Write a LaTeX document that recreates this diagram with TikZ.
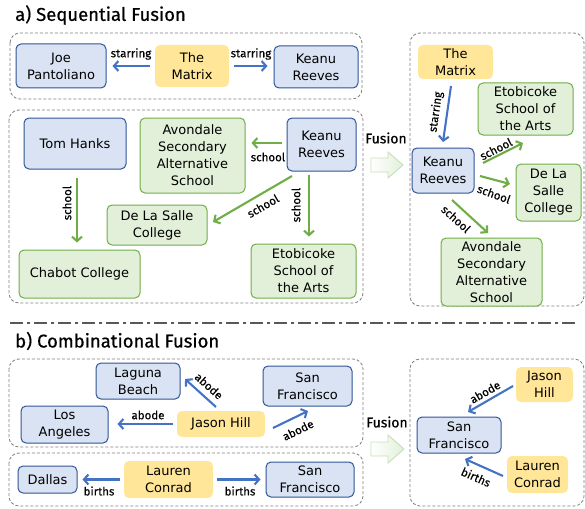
\documentclass[tikz,border=0pt]{standalone}
\usepackage{fontspec}
\setmainfont{DejaVu Sans}
\newfontfamily\lblfont[FakeBold=0.3]{Fira Sans}
\newfontfamily\ttlfont[FakeBold=0.6]{Fira Sans}
\usetikzlibrary{arrows.meta,calc}
\definecolor{bfill}{HTML}{DAE3F3}
\definecolor{bdraw}{HTML}{2F5597}
\definecolor{gfill}{HTML}{E2F0D9}
\definecolor{gdraw}{HTML}{70AD47}
\definecolor{yfill}{HTML}{FFE699}
\definecolor{barrow}{HTML}{4472C4}
\definecolor{garrow}{HTML}{70AD47}
\definecolor{boxgray}{HTML}{7F7F7F}
\definecolor{sepgray}{HTML}{595959}
\definecolor{hollow}{HTML}{C5E0B4}
\tikzset{
  nd/.style={rounded corners=5pt, align=center, inner sep=1pt, font=\fontsize{13}{17}\selectfont},
  bluebox/.style={nd, fill=bfill, draw=bdraw, line width=1pt},
  greenbox/.style={nd, fill=gfill, draw=gdraw, line width=1pt},
  yellowbox/.style={nd, fill=yfill},
  dbox/.style={draw=boxgray, dash pattern=on 3pt off 2pt, line width=0.8pt, rounded corners=10pt},
  barr/.style={draw=barrow, line width=2.1pt, -{Straight Barb[length=4.5pt,width=10pt]}},
  garr/.style={draw=garrow, line width=2.1pt, -{Straight Barb[length=4.5pt,width=10pt]}},
  lbl/.style={font=\lblfont\fontsize{11.5}{13}\selectfont, inner sep=0.5pt},
  ttl/.style={font=\ttlfont\fontsize{18.5}{21}\selectfont, anchor=west, inner sep=0pt},
  fus/.style={font=\lblfont\fontsize{14}{16}\selectfont, inner sep=0pt},
}
\begin{document}
\begin{tikzpicture}[x=1pt,y=-1pt]
\useasboundingbox (0,0) rectangle (585,508);

% ---------- a) Sequential Fusion ----------
\node[ttl] (ta) at (15,15) {a) Sequential Fusion};
\draw[dbox] (10,33) rectangle (362,99);
\draw[dbox] (9,110) rectangle (363,303);
\draw[dbox] (410,33) rectangle (584,306);

\node[bluebox, minimum width=90pt, minimum height=44pt] (joe) at (61,66) {Joe\\Pantoliano};
\node[yellowbox, minimum width=74pt, minimum height=42pt] (matrix1) at (192,66) {The\\Matrix};
\node[bluebox, minimum width=84pt, minimum height=42pt] (keanu1) at (316,67) {Keanu\\Reeves};

\draw[barr, shorten <=5pt, shorten >=6pt] (matrix1.west) -- (joe.east |- matrix1.west);
\node[lbl] (l1) at (131,54) {starring};
\draw[barr, shorten <=5pt, shorten >=6pt] (matrix1.east) -- (keanu1.west |- matrix1.east);
\node[lbl] (l2) at (251,54) {starring};

\node[bluebox, minimum width=102pt, minimum height=51pt] (tom) at (75,143.5) {Tom Hanks};
\node[greenbox, minimum width=105pt, minimum height=75pt] (avon1) at (192.5,155.5) {Avondale\\Secondary\\Alternative\\School};
\node[bluebox, minimum width=69pt, minimum height=53pt] (keanu2) at (321.5,144.5) {Keanu\\Reeves};
\node[greenbox, minimum width=100pt, minimum height=40pt] (dls1) at (157,225) {De La Salle\\College};
\node[greenbox, minimum width=121pt, minimum height=48pt] (chabot) at (79.5,274) {Chabot College};
\node[greenbox, minimum width=105pt, minimum height=54pt] (eto1) at (303.5,271) {Etobicoke\\School of\\the Arts};

\draw[garr, shorten <=8pt, shorten >=7pt] ([xshift=2pt]tom.south) -- ([xshift=2pt]tom.south |- chabot.north);
\node[lbl, rotate=90] (l3) at (67,203) {school};
\draw[garr, shorten <=5pt, shorten >=6pt] ([yshift=1.5pt]keanu2.west) -- ([yshift=1.5pt]keanu2.west -| avon1.east);
\node[lbl] (l4) at (268,157) {school};
\draw[garr] ($(keanu2.center)+(-29.5,31.5)$) -- ($(dls1.center)+(56,-3)$);
\node[lbl, rotate=30] (l5) at (263,206) {school};
\draw[garr, shorten <=3pt, shorten >=7pt] ([xshift=-12.5pt]keanu2.south) -- ([xshift=-12.5pt]keanu2.south |- eto1.north);
\node[lbl, rotate=90] (l6) at (296,205) {school};

% fusion arrow a
\node[fus] (fa) at (386,138) {Fusion};
\draw[hollow, line width=0.9pt, left color=white, right color=gfill]
  (371,158) -- (388,158) -- (388,152) -- (403,165) -- (388,178) -- (388,172) -- (371,172) -- cycle;

\node[yellowbox, minimum width=75pt, minimum height=34pt] (matrix2) at (455.5,62) {The\\Matrix};
\node[greenbox, minimum width=95pt, minimum height=52pt] (eto2) at (525.5,109) {Etobicoke\\School of\\the Arts};
\node[bluebox, minimum width=62pt, minimum height=45pt] (keanu3) at (443,170.5) {Keanu\\Reeves};
\node[greenbox, minimum width=65pt, minimum height=57pt] (dls2) at (548.5,192.5) {De La\\Salle\\College};
\node[greenbox, minimum width=101pt, minimum height=68pt] (avon2) at (491.5,272) {Avondale\\Secondary\\Alternative\\School};

\draw[barr] ($(matrix2.center)+(-4.5,24)$) -- ($(keanu3.center)+(0,-28.5)$);
\node[lbl, rotate=82] (l7) at (436,112) {starring};
\draw[garr] ($(keanu3.center)+(40,-7.5)$) -- ($(eto2.center)+(-2.5,34)$);
\node[lbl, rotate=27] (l8) at (496,149) {school};
\draw[garr] ($(keanu3.center)+(37,5.5)$) -- ($(dls2.center)+(-38.5,-8.5)$);
\node[lbl, rotate=-20] (l9) at (494,194) {school};
\draw[garr] ($(keanu3.center)+(9,29.5)$) -- ($(avon2.center)+(-3.5,-39)$);
\node[lbl, rotate=-42] (l10) at (456,219) {school};

% separator
\draw[sepgray, line width=1.2pt, dash pattern=on 13pt off 4pt on 3pt off 4pt] (10,323) -- (576,323);

% ---------- b) Combinational Fusion ----------
\node[ttl] (tb) at (15,341) {b) Combinational Fusion};
\draw[dbox] (9,359) rectangle (363,447);
\draw[dbox] (9,453) rectangle (363,506);
\draw[dbox] (410,359) rectangle (584,506);

\node[bluebox, minimum width=84pt, minimum height=36pt] (laguna) at (138,381) {Laguna\\Beach};
\node[bluebox, minimum width=89pt, minimum height=40pt] (sf1) at (307.5,386) {San\\Francisco};
\node[bluebox, minimum width=87pt, minimum height=37pt] (la) at (64.5,424.5) {Los\\Angeles};
\node[yellowbox, minimum width=88pt, minimum height=26pt] (jason1) at (221,424) {Jason Hill};

\draw[barr, shorten <=4pt, shorten >=9pt] (jason1.west) -- (la.east |- jason1.west);
\node[lbl] (l11) at (148,415) {abode};
\draw[barr] ($(jason1.center)+(-5,-17)$) -- ($(laguna.center)+(47,-2)$);
\node[lbl, rotate=-42] (l12) at (209,386) {abode};
\draw[barr] ($(jason1.center)+(52,4)$) -- ($(sf1.center)+(0.5,25)$);
\node[lbl, rotate=26] (l13) at (298,430) {abode};

\node[bluebox, minimum width=59pt, minimum height=27pt] (dallas) at (47.5,479.5) {Dallas};
\node[yellowbox, minimum width=89pt, minimum height=37pt] (lauren1) at (168.5,479.5) {Lauren\\Conrad};
\node[bluebox, minimum width=88pt, minimum height=35pt] (sf2) at (310,479.5) {San\\Francisco};

\draw[barr, shorten <=4pt, shorten >=5pt] (lauren1.west) -- (dallas.east |- lauren1.west);
\node[lbl] (l14) at (99,491) {births};
\draw[barr, shorten <=4pt, shorten >=5pt] (lauren1.east) -- (sf2.west |- lauren1.east);
\node[lbl] (l15) at (240,491) {births};

% fusion arrow b
\node[fus] (fb) at (387,422) {Fusion};
\draw[hollow, line width=0.9pt, left color=white, right color=gfill]
  (371,442) -- (388,442) -- (388,435) -- (404,449) -- (388,463) -- (388,456) -- (371,456) -- cycle;

\node[yellowbox, minimum width=57pt, minimum height=35pt] (jason2) at (544.5,384.5) {Jason\\Hill};
\node[bluebox, minimum width=84pt, minimum height=36pt] (sf3) at (459,435) {San\\Francisco};
\node[yellowbox, minimum width=61pt, minimum height=37pt] (lauren2) at (537.5,474.5) {Lauren\\Conrad};

\draw[barr] ($(jason2.center)+(-31.5,1.5)$) -- ($(sf3.center)+(9,-23)$);
\node[lbl, rotate=30] (l16) at (485,392) {abode};
\draw[barr] ($(lauren2.center)+(-34.5,1.5)$) -- ($(sf3.center)+(6,24)$);
\node[lbl, rotate=-24] (l17) at (476,477) {births};
\end{tikzpicture}
\end{document}
